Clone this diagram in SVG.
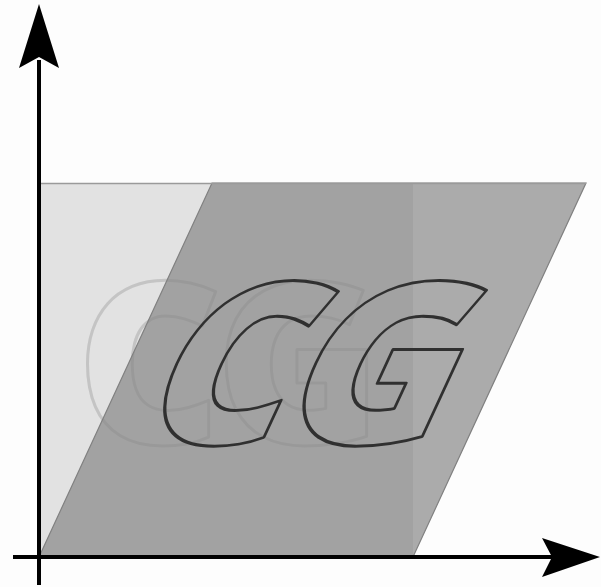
<svg xmlns="http://www.w3.org/2000/svg" width="601" height="587" viewBox="0 0 601 587">
<style>
.glyph{font-family:"Open Sans","DejaVu Sans",sans-serif;font-weight:800;font-size:226px;letter-spacing:-8px;fill:none;stroke-width:3;stroke-linejoin:round}
.axis{stroke:#000;stroke-width:4;fill:none}
</style>
<rect width="601" height="587" fill="#fdfdfd"/>
<g id="original">
<rect x="39" y="183" width="374" height="374" fill="#e2e2e2"/>
<text class="glyph" x="76" y="444" stroke="#c4c4c4">CG</text>
</g>
<g id="sheared">
<polygon points="39,557 212,183 586,183 413,557" fill="#888" fill-opacity="0.7" stroke="#808080" stroke-width="1.2"/>
<line x1="39" y1="183.5" x2="586" y2="183.5" stroke="#9a9a9a" stroke-width="1.5"/>
<g transform="matrix(1,0,-0.4626,1,257.7,0)">
<text class="glyph" x="76" y="444" stroke="#303030">CG</text>
</g>
</g>
<g id="axes">
<line class="axis" x1="39" y1="60" x2="39" y2="585"/>
<line class="axis" x1="13" y1="557" x2="552" y2="557"/>
<polygon points="39,4 59,68 39,57 19,68" fill="#000"/>
<polygon points="600,557 542,538 552,557 542,577" fill="#000"/>
</g>
</svg>
